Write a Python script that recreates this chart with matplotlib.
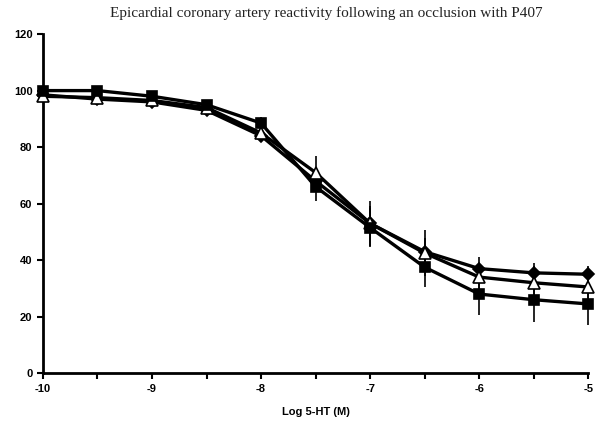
import numpy as np
import matplotlib
matplotlib.use('Agg')
import matplotlib.pyplot as plt

plt.rcParams['axes.unicode_minus'] = False

log_conc = [-10, -9.5, -9, -8.5, -8, -7.5, -7, -6.5, -6, -5.5, -5]

square = [100, 100, 98, 95, 88.5, 66, 51.5, 37.5, 28, 26, 24.5]
square_err = [1, 1, 1, 1, 2, 5, 7, 7, 7.5, 8, 7.5]

diamond = [98.5, 97, 96, 93, 84, 68, 53, 43, 37, 35.5, 35]
diamond_err = [1, 1, 1, 1, 2, 4, 6, 5, 4, 3.5, 3]

triangle = [98, 97.5, 96.5, 94, 85, 71, 53, 42.5, 34, 32, 30.5]
triangle_err = [1, 1, 1, 1, 2, 6, 8, 8, 5, 6, 5]

x_ticks = [-10, -9, -8, -7, -6, -5]
y_ticks = [0, 20, 40, 60, 80, 100, 120]

fig = plt.figure(figsize=(6.04, 4.26), dpi=100)
ax = fig.add_axes([0.071, 0.124, 0.903, 0.796])

series = [
    (diamond, diamond_err, 'D', 'black', 6),
    (triangle, triangle_err, '^', 'white', 8),
    (square, square_err, 's', 'black', 7),
]
for y, err, mk, fc, ms in series:
    lines = ax.errorbar(log_conc, y, yerr=err, color='black', lw=2.4,
                        elinewidth=1.2, capsize=0, marker=mk, markersize=ms,
                        markerfacecolor=fc, markeredgecolor='black',
                        markeredgewidth=1.2, zorder=3)
    for art in lines.lines[0:1] + tuple(lines.lines[2]):
        art.set_clip_on(False)

ax.set_xlim(-10, -5)
ax.set_ylim(0, 120)
ax.set_xticks(x_ticks)
ax.set_xticks(np.arange(-10, -4.9, 0.5), minor=True)
ax.set_yticks(y_ticks)
for side in ('top', 'right'):
    ax.spines[side].set_visible(False)
for side in ('left', 'bottom'):
    ax.spines[side].set_linewidth(2)
ax.tick_params(axis='both', which='both', direction='out', width=1.5,
               length=4, labelsize=8)
ax.tick_params(axis='x', which='minor', length=4)
for lab in ax.get_xticklabels() + ax.get_yticklabels():
    lab.set_fontweight('bold')
    lab.set_family('Liberation Sans')

ax.set_xlabel('Log 5-HT (M)', fontsize=8, fontweight='bold',
              family='Liberation Sans', labelpad=10)
fig.suptitle('Epicardial coronary artery reactivity following an occlusion with P407',
             x=0.54, y=0.985, fontsize=11, family='Liberation Serif', color='#222222')

fig.savefig('out.png', dpi=100)
